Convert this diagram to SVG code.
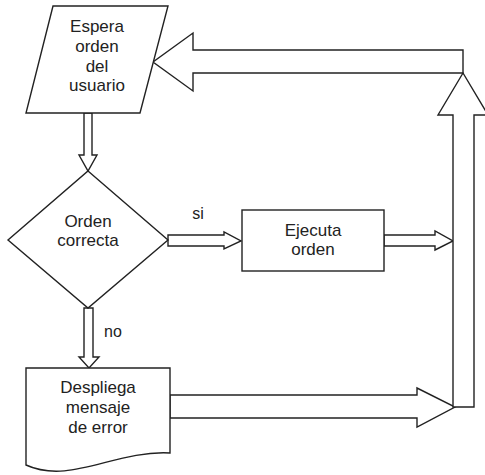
<svg xmlns="http://www.w3.org/2000/svg" width="485" height="475" viewBox="0 0 485 475">
<style>
.s{fill:#fff;stroke:#222;stroke-width:1.4;stroke-linejoin:miter}
.t{font-family:"Liberation Sans",Arial,sans-serif;font-size:17px;fill:#222;text-anchor:middle}
.l{font-family:"Liberation Sans",Arial,sans-serif;font-size:16px;fill:#222;text-anchor:middle}
</style>
<rect width="485" height="475" fill="#fff"/>
<g id="connectors">
<polygon class="s" points="84,113 92,113 92,155 97,155 88,171 79,155 84,155"/>
<polygon class="s" points="168,235 224,235 224,232 241,241 224,249 224,246 168,246"/>
<polygon class="s" points="84,308 93,308 93,357 99,357 89,368 79,357 84,357"/>
<polygon class="s" points="384,235 435,235 435,231 453,241 435,250 435,246 384,246"/>
<polygon class="s" points="170,395 417,395 417,388 455,407 417,427 417,418 170,418"/>
<polygon class="s" points="453,407 453,115 438,115 463,73 488,115 474,115 474,407"/>
<polygon class="s" points="463,73 193,73 193,91 153,62 193,33 193,50 463,50"/>
<text class="l" x="198" y="219">si</text>
<text class="l" x="113" y="337">no</text>
</g>
<g id="espera">
<polygon class="s" points="53,6 168,6 140,113 26,113"/>
<text class="t" x="97" y="32">Espera</text>
<text class="t" x="97" y="52">orden</text>
<text class="t" x="97" y="72">del</text>
<text class="t" x="97" y="91">usuario</text>
</g>
<g id="orden-correcta">
<polygon class="s" points="88,171 168,240 88,308 8,240"/>
<text class="t" x="88" y="227">Orden</text>
<text class="t" x="88" y="246">correcta</text>
</g>
<g id="ejecuta">
<rect class="s" x="242" y="210" width="142" height="61"/>
<text class="t" x="313" y="236">Ejecuta</text>
<text class="t" x="313" y="255">orden</text>
</g>
<g id="despliega">
<path class="s" d="M26,368 H170 V453 C115,450 70,485 26,465 Z"/>
<text class="t" x="98" y="393">Despliega</text>
<text class="t" x="98" y="413">mensaje</text>
<text class="t" x="98" y="433">de error</text>
</g>
</svg>
